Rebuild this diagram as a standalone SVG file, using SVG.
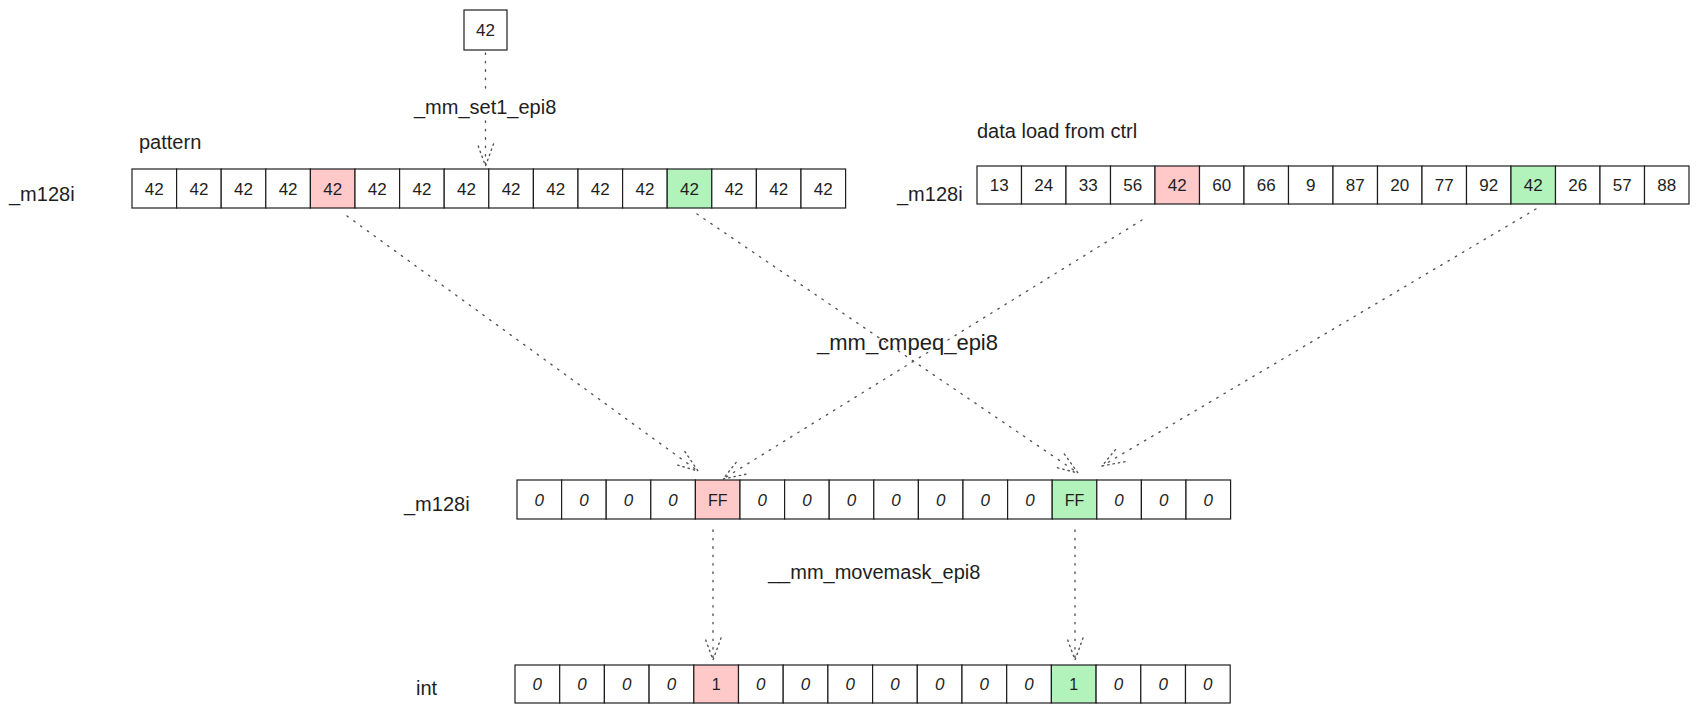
<svg xmlns="http://www.w3.org/2000/svg" width="1700" height="713" viewBox="0 0 1700 713">
<defs>
<style>
.cell{fill:#ffffff;stroke:#1e1e1e;stroke-width:1.2}
.red{fill:#ffc9c9}
.green{fill:#b2f2bb}
.hand{font-family:"Liberation Sans",Arial,sans-serif;font-size:17px;fill:#1e1e1e;text-anchor:middle}
.zero{font-style:italic}
.plain{font-family:"Liberation Sans",Arial,sans-serif;font-size:16px;fill:#1e1e1e;text-anchor:middle}
.lbl{font-family:"Liberation Sans",Arial,sans-serif;font-size:20px;fill:#1e1e1e}
.big{font-size:22px}
.conn{fill:none;stroke:#555;stroke-width:1.4;stroke-dasharray:1.4 7;stroke-linecap:round}
</style>
<marker id="arr" viewBox="-26 -14 30 28" refX="0" refY="0" markerWidth="30" markerHeight="28" markerUnits="userSpaceOnUse" orient="auto">
<path d="M-22,-8 L0,0 L-22,8" fill="none" stroke="#555" stroke-width="1.4" stroke-dasharray="1.4 4" stroke-linecap="round"/>
</marker>
</defs>
<rect x="0" y="0" width="1700" height="713" fill="#ffffff"/>

<g id="connectors">
<path class="conn" d="M485.5 53 V92"/>
<path class="conn" d="M485.5 121 V166" marker-end="url(#arr)"/>
<path class="conn" d="M347 216 L698 471" marker-end="url(#arr)"/>
<path class="conn" d="M697 214 L1078 473" marker-end="url(#arr)"/>
<path class="conn" d="M1142 220 L723 479" marker-end="url(#arr)"/>
<path class="conn" d="M1536 209 L1102 466" marker-end="url(#arr)"/>
<path class="conn" d="M713 530 V660" marker-end="url(#arr)"/>
<path class="conn" d="M1075 530 V660" marker-end="url(#arr)"/>
</g>

<g id="labels">
<text class="lbl" x="414" y="114">_mm_set1_epi8</text>
<text class="lbl" x="139" y="149">pattern</text>
<text class="lbl" x="9" y="201">_m128i</text>
<text class="lbl" x="977" y="138">data load from ctrl</text>
<text class="lbl" x="897" y="201">_m128i</text>
<text class="lbl big" x="817" y="350">_mm_cmpeq_epi8</text>
<text class="lbl" x="404" y="511">_m128i</text>
<text class="lbl" x="768" y="579">__mm_movemask_epi8</text>
<text class="lbl" x="416" y="695">int</text>
</g>

<g id="source-42">
<rect class="cell" x="464" y="10" width="43" height="40"/>
<text class="hand" x="485.5" y="36">42</text>
</g>

<g id="pattern-row">
<g id="p0"><rect class="cell" x="132" y="169" width="44.6" height="39"/><text class="hand" x="154.3" y="194.5">42</text></g>
<g id="p1"><rect class="cell" x="176.6" y="169" width="44.6" height="39"/><text class="hand" x="198.9" y="194.5">42</text></g>
<g id="p2"><rect class="cell" x="221.2" y="169" width="44.6" height="39"/><text class="hand" x="243.5" y="194.5">42</text></g>
<g id="p3"><rect class="cell" x="265.8" y="169" width="44.6" height="39"/><text class="hand" x="288.1" y="194.5">42</text></g>
<g id="p4"><rect class="cell red" x="310.4" y="169" width="44.6" height="39"/><text class="hand" x="332.7" y="194.5">42</text></g>
<g id="p5"><rect class="cell" x="355" y="169" width="44.6" height="39"/><text class="hand" x="377.3" y="194.5">42</text></g>
<g id="p6"><rect class="cell" x="399.6" y="169" width="44.6" height="39"/><text class="hand" x="421.9" y="194.5">42</text></g>
<g id="p7"><rect class="cell" x="444.2" y="169" width="44.6" height="39"/><text class="hand" x="466.5" y="194.5">42</text></g>
<g id="p8"><rect class="cell" x="488.8" y="169" width="44.6" height="39"/><text class="hand" x="511.1" y="194.5">42</text></g>
<g id="p9"><rect class="cell" x="533.4" y="169" width="44.6" height="39"/><text class="hand" x="555.7" y="194.5">42</text></g>
<g id="p10"><rect class="cell" x="578" y="169" width="44.6" height="39"/><text class="hand" x="600.3" y="194.5">42</text></g>
<g id="p11"><rect class="cell" x="622.6" y="169" width="44.6" height="39"/><text class="hand" x="644.9" y="194.5">42</text></g>
<g id="p12"><rect class="cell green" x="667.2" y="169" width="44.6" height="39"/><text class="hand" x="689.5" y="194.5">42</text></g>
<g id="p13"><rect class="cell" x="711.8" y="169" width="44.6" height="39"/><text class="hand" x="734.1" y="194.5">42</text></g>
<g id="p14"><rect class="cell" x="756.4" y="169" width="44.6" height="39"/><text class="hand" x="778.7" y="194.5">42</text></g>
<g id="p15"><rect class="cell" x="801" y="169" width="44.6" height="39"/><text class="hand" x="823.3" y="194.5">42</text></g>
</g>

<g id="data-row">
<g id="d0"><rect class="cell" x="977" y="166" width="44.5" height="38"/><text class="hand" x="999.25" y="191">13</text></g>
<g id="d1"><rect class="cell" x="1021.5" y="166" width="44.5" height="38"/><text class="hand" x="1043.75" y="191">24</text></g>
<g id="d2"><rect class="cell" x="1066" y="166" width="44.5" height="38"/><text class="hand" x="1088.25" y="191">33</text></g>
<g id="d3"><rect class="cell" x="1110.5" y="166" width="44.5" height="38"/><text class="hand" x="1132.75" y="191">56</text></g>
<g id="d4"><rect class="cell red" x="1155" y="166" width="44.5" height="38"/><text class="hand" x="1177.25" y="191">42</text></g>
<g id="d5"><rect class="cell" x="1199.5" y="166" width="44.5" height="38"/><text class="hand" x="1221.75" y="191">60</text></g>
<g id="d6"><rect class="cell" x="1244" y="166" width="44.5" height="38"/><text class="hand" x="1266.25" y="191">66</text></g>
<g id="d7"><rect class="cell" x="1288.5" y="166" width="44.5" height="38"/><text class="hand" x="1310.75" y="191">9</text></g>
<g id="d8"><rect class="cell" x="1333" y="166" width="44.5" height="38"/><text class="hand" x="1355.25" y="191">87</text></g>
<g id="d9"><rect class="cell" x="1377.5" y="166" width="44.5" height="38"/><text class="hand" x="1399.75" y="191">20</text></g>
<g id="d10"><rect class="cell" x="1422" y="166" width="44.5" height="38"/><text class="hand" x="1444.25" y="191">77</text></g>
<g id="d11"><rect class="cell" x="1466.5" y="166" width="44.5" height="38"/><text class="hand" x="1488.75" y="191">92</text></g>
<g id="d12"><rect class="cell green" x="1511" y="166" width="44.5" height="38"/><text class="hand" x="1533.25" y="191">42</text></g>
<g id="d13"><rect class="cell" x="1555.5" y="166" width="44.5" height="38"/><text class="hand" x="1577.75" y="191">26</text></g>
<g id="d14"><rect class="cell" x="1600" y="166" width="44.5" height="38"/><text class="hand" x="1622.25" y="191">57</text></g>
<g id="d15"><rect class="cell" x="1644.5" y="166" width="44.5" height="38"/><text class="hand" x="1666.75" y="191">88</text></g>
</g>

<g id="cmp-row">
<g id="m0"><rect class="cell" x="517" y="480" width="44.6" height="39"/><text class="hand zero" x="539.3" y="505.5">0</text></g>
<g id="m1"><rect class="cell" x="561.6" y="480" width="44.6" height="39"/><text class="hand zero" x="583.9" y="505.5">0</text></g>
<g id="m2"><rect class="cell" x="606.2" y="480" width="44.6" height="39"/><text class="hand zero" x="628.5" y="505.5">0</text></g>
<g id="m3"><rect class="cell" x="650.8" y="480" width="44.6" height="39"/><text class="hand zero" x="673.1" y="505.5">0</text></g>
<g id="m4"><rect class="cell red" x="695.4" y="480" width="44.6" height="39"/><text class="plain" x="717.7" y="505.5">FF</text></g>
<g id="m5"><rect class="cell" x="740" y="480" width="44.6" height="39"/><text class="hand zero" x="762.3" y="505.5">0</text></g>
<g id="m6"><rect class="cell" x="784.6" y="480" width="44.6" height="39"/><text class="hand zero" x="806.9" y="505.5">0</text></g>
<g id="m7"><rect class="cell" x="829.2" y="480" width="44.6" height="39"/><text class="hand zero" x="851.5" y="505.5">0</text></g>
<g id="m8"><rect class="cell" x="873.8" y="480" width="44.6" height="39"/><text class="hand zero" x="896.1" y="505.5">0</text></g>
<g id="m9"><rect class="cell" x="918.4" y="480" width="44.6" height="39"/><text class="hand zero" x="940.7" y="505.5">0</text></g>
<g id="m10"><rect class="cell" x="963" y="480" width="44.6" height="39"/><text class="hand zero" x="985.3" y="505.5">0</text></g>
<g id="m11"><rect class="cell" x="1007.6" y="480" width="44.6" height="39"/><text class="hand zero" x="1029.9" y="505.5">0</text></g>
<g id="m12"><rect class="cell green" x="1052.2" y="480" width="44.6" height="39"/><text class="plain" x="1074.5" y="505.5">FF</text></g>
<g id="m13"><rect class="cell" x="1096.8" y="480" width="44.6" height="39"/><text class="hand zero" x="1119.1" y="505.5">0</text></g>
<g id="m14"><rect class="cell" x="1141.4" y="480" width="44.6" height="39"/><text class="hand zero" x="1163.7" y="505.5">0</text></g>
<g id="m15"><rect class="cell" x="1186" y="480" width="44.6" height="39"/><text class="hand zero" x="1208.3" y="505.5">0</text></g>
</g>

<g id="int-row">
<g id="i0"><rect class="cell" x="515" y="665" width="44.7" height="38"/><text class="hand zero" x="537.35" y="690">0</text></g>
<g id="i1"><rect class="cell" x="559.7" y="665" width="44.7" height="38"/><text class="hand zero" x="582.05" y="690">0</text></g>
<g id="i2"><rect class="cell" x="604.4" y="665" width="44.7" height="38"/><text class="hand zero" x="626.75" y="690">0</text></g>
<g id="i3"><rect class="cell" x="649.1" y="665" width="44.7" height="38"/><text class="hand zero" x="671.45" y="690">0</text></g>
<g id="i4"><rect class="cell red" x="693.8" y="665" width="44.7" height="38"/><text class="plain" x="716.15" y="690">1</text></g>
<g id="i5"><rect class="cell" x="738.5" y="665" width="44.7" height="38"/><text class="hand zero" x="760.85" y="690">0</text></g>
<g id="i6"><rect class="cell" x="783.2" y="665" width="44.7" height="38"/><text class="hand zero" x="805.55" y="690">0</text></g>
<g id="i7"><rect class="cell" x="827.9" y="665" width="44.7" height="38"/><text class="hand zero" x="850.25" y="690">0</text></g>
<g id="i8"><rect class="cell" x="872.6" y="665" width="44.7" height="38"/><text class="hand zero" x="894.95" y="690">0</text></g>
<g id="i9"><rect class="cell" x="917.3" y="665" width="44.7" height="38"/><text class="hand zero" x="939.65" y="690">0</text></g>
<g id="i10"><rect class="cell" x="962" y="665" width="44.7" height="38"/><text class="hand zero" x="984.35" y="690">0</text></g>
<g id="i11"><rect class="cell" x="1006.7" y="665" width="44.7" height="38"/><text class="hand zero" x="1029.05" y="690">0</text></g>
<g id="i12"><rect class="cell green" x="1051.4" y="665" width="44.7" height="38"/><text class="plain" x="1073.75" y="690">1</text></g>
<g id="i13"><rect class="cell" x="1096.1" y="665" width="44.7" height="38"/><text class="hand zero" x="1118.45" y="690">0</text></g>
<g id="i14"><rect class="cell" x="1140.8" y="665" width="44.7" height="38"/><text class="hand zero" x="1163.15" y="690">0</text></g>
<g id="i15"><rect class="cell" x="1185.5" y="665" width="44.7" height="38"/><text class="hand zero" x="1207.85" y="690">0</text></g>
</g>
</svg>
